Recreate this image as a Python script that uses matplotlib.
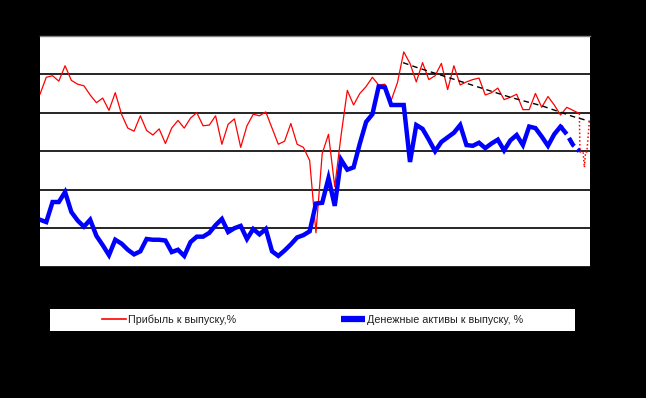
import numpy as np
import matplotlib.pyplot as plt
from matplotlib.patches import Rectangle

plt.rcParams['font.family'] = ['Liberation Sans', 'DejaVu Sans']

# Прибыль к выпуску, % (по периодам)
pribyl = [22.4, 24.6, 24.8, 24.1, 26.1, 24.2, 23.7, 23.5, 22.3, 21.3,
          21.9, 20.3, 22.6, 19.8, 18.0, 17.6, 19.6, 17.7, 17.1, 17.9,
          16.0, 18.0, 19.0, 18.0, 19.3, 20.0, 18.3, 18.4, 19.6, 15.9,
          18.5, 19.2, 15.5, 18.3, 19.8, 19.6, 20.1, 18.0, 15.9, 16.3,
          18.6, 15.9, 15.5, 13.8, 4.4, 14.7, 17.2, 10.4, 17.0, 22.9,
          21.0, 22.5, 23.4, 24.6, 23.6, 23.7, 21.6, 23.9, 27.9, 26.4,
          24.0, 26.5, 24.3, 24.8, 26.4, 23.0, 26.1, 23.6, 24.0, 24.3,
          24.5, 22.3, 22.6, 23.2, 21.7, 22.0, 22.4, 20.4, 20.4, 22.5,
          20.7, 22.1, 21.0, 19.7, 20.7, 20.3, 19.9]

# оценка (пунктир)
pribyl_ocenka_x = [86.0, 86.1, 86.6, 86.8, 87.0, 87.2, 87.6]
pribyl_ocenka = [19.9, 14.9, 14.9, 12.9, 14.9, 14.9, 18.9]

# Денежные активы к выпуску, %
den_aktivy = [6.1, 5.8, 8.4, 8.4, 9.7, 7.1, 6.0, 5.2, 6.1, 4.0,
              2.8, 1.5, 3.5, 3.0, 2.2, 1.6, 2.0, 3.6, 3.5, 3.5,
              3.4, 1.9, 2.2, 1.4, 3.2, 3.9, 3.9, 4.4, 5.4, 6.2,
              4.5, 5.0, 5.3, 3.6, 4.9, 4.2, 4.9, 2.0, 1.4, 2.1,
              2.9, 3.8, 4.1, 4.6, 8.2, 8.3, 11.5, 7.9, 13.9, 12.6,
              12.9, 16.0, 18.8, 19.8, 23.4, 23.3, 21.0, 21.0, 21.0, 13.6,
              18.4, 17.9, 16.5, 15.0, 16.2, 16.8, 17.4, 18.4, 15.8, 15.7,
              16.1, 15.4, 16.0, 16.5, 15.1, 16.4, 17.1, 15.8, 18.2, 18.0,
              16.9, 15.7, 17.2, 18.2]

den_ocenka_x = [83, 84, 85, 86]
den_ocenka = [18.2, 17.2, 15.8, 15.0]

# тренд прибыли (черный пунктир)
trend_x = [57.9, 60, 65, 70, 75, 80, 85, 87.6]
trend = [26.5, 25.9, 24.6, 23.3, 22.0, 20.9, 19.5, 18.9]

fig = plt.figure(figsize=(6.46, 3.98), dpi=100, facecolor='black')
ax = fig.add_axes([40 / 646, 1 - 266.7 / 398, 550 / 646, 231 / 398])
ax.set_facecolor('white')

x_p = np.arange(len(pribyl))
x_d = np.arange(len(den_aktivy))

ax.plot(x_p, pribyl, color='red', lw=0.9, zorder=3)
ax.plot(pribyl_ocenka_x, pribyl_ocenka, color='red', lw=1.1,
        linestyle=(0, (1, 1.5)), zorder=3)
ax.plot(x_d, den_aktivy, color='#0000ff', lw=3.2, zorder=4,
        solid_joinstyle='miter')
ax.plot(den_ocenka_x, den_ocenka, color='#0000ff', lw=3.2,
        linestyle=(0, (2.2, 1.0)), zorder=4)
ax.plot(trend_x, trend, color='black', lw=1.0,
        linestyle=(0, (4, 3)), zorder=3)

ax.set_xlim(0, 87.7)
ax.set_ylim(0, 30)
ax.set_yticks([0, 5, 10, 15, 20, 25, 30])
ax.set_xticks([])
ax.tick_params(axis='y', length=0, labelleft=False)
ax.yaxis.grid(True, color='black', lw=1.2)
ax.set_axisbelow(True)
for side in ['left', 'right', 'bottom']:
    ax.spines[side].set_visible(False)
ax.spines['top'].set_color('#808080')
ax.spines['top'].set_linewidth(1.0)

# Легенда в белой рамке
fig.patches.append(Rectangle((50 / 646, 1 - 331 / 398), 525 / 646, 22 / 398,
                             transform=fig.transFigure, facecolor='white',
                             edgecolor='none', zorder=1))
h1, = ax.plot([], [], color='red', lw=1.2)
h2, = ax.plot([], [], color='#0000ff', lw=4.5, solid_capstyle='butt')
fig.legend([h1, h2],
           ['Прибыль к выпуску,%', 'Денежные активы к выпуску, %'],
           loc='center', bbox_to_anchor=(312.5 / 646, 1 - 320 / 398),
           ncol=2, frameon=False, fontsize=7.75, handlelength=2.23,
           handletextpad=0.2, columnspacing=9.75, labelcolor='#202020')

fig.savefig('out.png', dpi=100, facecolor='black')
